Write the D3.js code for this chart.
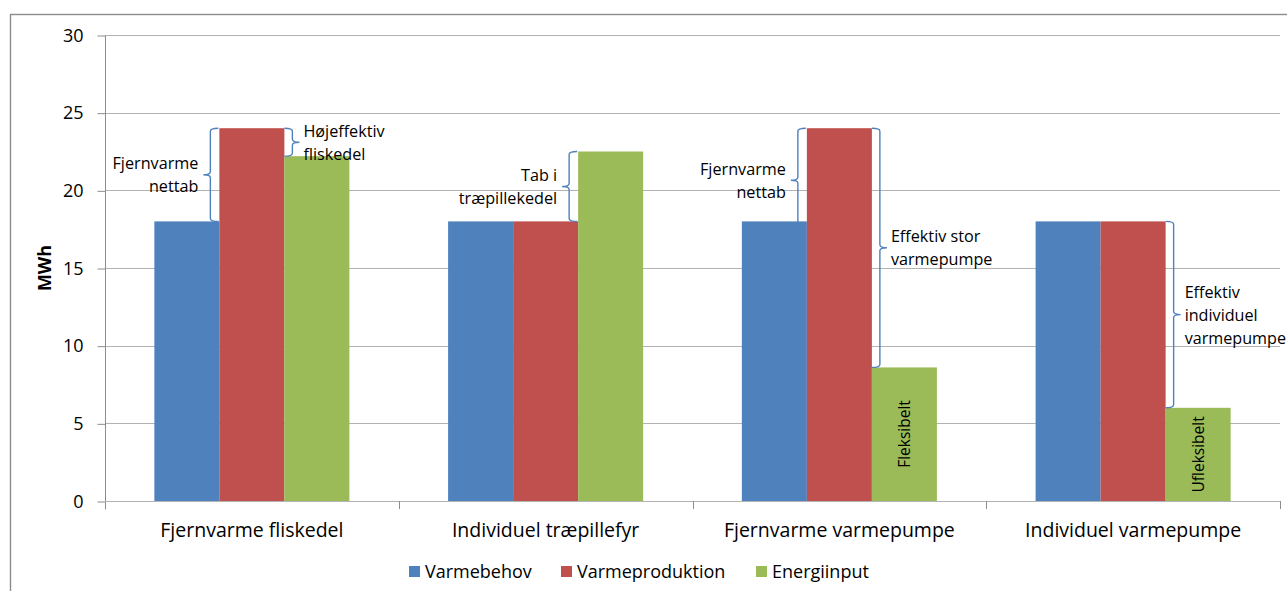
<!DOCTYPE html>
<html><head><meta charset="utf-8">
<script src="https://cdn.jsdelivr.net/npm/d3@7"></script>
<style>
html,body{margin:0;padding:0;background:#fff;}
svg{display:block;font-family:"Open Sans", sans-serif;}
</style></head>
<body><svg id="c" width="1287" height="591"></svg>
<script>
const categories = ["Fjernvarme fliskedel", "Individuel træpillefyr", "Fjernvarme varmepumpe", "Individuel varmepumpe"];
const seriesNames = ["Varmebehov", "Varmeproduktion", "Energiinput"];
const varmebehov = [18, 18, 18, 18];
const varmeproduktion = [24, 18, 24, 18];
const energiinput = [22.2, 22.5, 8.6, 6.0];
const yTicks = [0, 5, 10, 15, 20, 25, 30];
const colors = ["#4F81BD", "#C0504D", "#9BBB59"];
// brackets: category index, series index at whose side, side, from value, to value, label lines
const bracketCat = [0, 0, 1, 2, 2, 3];
const bracketSeries = [1, 1, 2, 1, 1, 1];
const bracketSide = ["left", "right", "left", "left", "right", "right"];
const bracketFrom = [24, 24, 22.5, 24, 24, 18];
const bracketTo = [18, 22.2, 18, 17.3, 8.6, 6.0];
const bracketText = [["Fjernvarme", "nettab"], ["Højeffektiv", "fliskedel"], ["Tab i", "træpillekedel"], ["Fjernvarme", "nettab"], ["Effektiv stor", "varmepumpe"], ["Effektiv", "individuel", "varmepumpe"]];
const barLabelCat = [2, 3];
const barLabelText = ["Fleksibelt", "Ufleksibelt"];

const svg = d3.select("#c");
const W = 1287;
const m = {left: 105, right: 1280, top: 35, bottom: 501};
const series = [varmebehov, varmeproduktion, energiinput];

// outer border
svg.append("rect").attr("x", 10.5).attr("y", 14.5).attr("width", 1400).attr("height", 700)
  .attr("fill", "none").attr("stroke", "#8c8c8c").attr("stroke-width", 1.4);

const x0 = d3.scaleBand().domain(categories).range([m.left, m.right]).padding(0);
const bw = x0.bandwidth();
const gw = bw * 0.664;
const x1 = d3.scaleBand().domain(seriesNames).range([(bw - gw) / 2, (bw + gw) / 2]).padding(0);
const y = d3.scaleLinear().domain([0, 30]).range([m.bottom, m.top]);

// gridlines
svg.append("g").selectAll("line").data(yTicks.filter(d => d > 0)).join("line")
  .attr("x1", m.left).attr("x2", m.right)
  .attr("y1", d => Math.round(y(d)) + 0.5).attr("y2", d => Math.round(y(d)) + 0.5)
  .attr("stroke", "#b3b3b3").attr("stroke-width", 1);

// y axis
const yAxis = svg.append("g").attr("transform", `translate(${m.left + 0.5},0.5)`)
  .call(d3.axisLeft(y).tickValues(yTicks).tickSize(8).tickPadding(14));
yAxis.select(".domain").attr("stroke", "#8c8c8c").attr("d", `M0,${m.top}V${m.bottom + 8}`);
yAxis.selectAll(".tick line").attr("stroke", "#8c8c8c");
yAxis.selectAll("text").attr("font-size", 18).attr("fill", "#000").attr("font-family", "Open Sans");

// x axis
svg.append("line").attr("x1", m.left).attr("x2", m.right).attr("y1", m.bottom + 0.5).attr("y2", m.bottom + 0.5)
  .attr("stroke", "#b3b3b3");
const bounds = categories.map(c => x0(c) + bw);
svg.append("g").selectAll("line").data(bounds).join("line")
  .attr("x1", d => Math.round(d) + 0.5).attr("x2", d => Math.round(d) + 0.5)
  .attr("y1", m.bottom).attr("y2", m.bottom + 8).attr("stroke", "#8c8c8c");
svg.append("g").selectAll("text").data(categories).join("text")
  .attr("x", d => x0(d) + bw / 2).attr("y", 537).attr("text-anchor", "middle")
  .attr("font-size", 19.5).text(d => d);

// bars
const g = svg.append("g");
series.forEach((vals, si) => {
  g.selectAll(null).data(vals).join("rect")
    .attr("x", (d, i) => x0(categories[i]) + x1(seriesNames[si]))
    .attr("width", x1.bandwidth())
    .attr("y", d => y(d)).attr("height", d => y(0) - y(d))
    .attr("fill", colors[si]);
});

// y title
svg.append("text").attr("transform", "translate(51,268) rotate(-90)").attr("text-anchor", "middle")
  .attr("font-size", 18).attr("font-weight", "bold").text("MWh");

// brackets
function bracePath(x, yt, yb, dir) {
  // dir = +1 tip points right, hooks left; -1 tip points left, hooks right
  const h = 8, t = 7, r = 3, ym = (yt + yb) / 2;
  return `M${x - dir * h},${yt} Q${x},${yt} ${x},${yt + r} L${x},${ym - r} Q${x},${ym} ${x + dir * t},${ym} Q${x},${ym} ${x},${ym + r} L${x},${yb - r} Q${x},${yb} ${x - dir * h},${yb}`;
}
const ann = svg.append("g");
bracketCat.forEach((ci, k) => {
  const side = bracketSide[k];
  const bx = x0(categories[ci]) + x1(seriesNames[bracketSeries[k]]);
  const dir = side === "left" ? -1 : 1;
  const xb = side === "left" ? bx - 9 : bx + x1.bandwidth() + 8;
  const yt = y(bracketFrom[k]), yb = y(bracketTo[k]);
  ann.append("path").attr("d", bracePath(xb, yt, yb, dir))
    .attr("fill", "none").attr("stroke", "#4F81BD").attr("stroke-width", 1.4);
  const lines = bracketText[k];
  const ym = (yt + yb) / 2;
  const lh = 23;
  const tx = side === "left" ? xb - 12 : xb + 11;
  const t = ann.append("text").attr("text-anchor", side === "left" ? "end" : "start")
    .attr("font-size", 16.2);
  lines.forEach((s, i) => {
    t.append("tspan").attr("x", tx)
      .attr("y", ym + (i - (lines.length - 1) / 2) * lh + 6).text(s);
  });
  // keep text inside the picture
  const bb = t.node().getBBox();
  if (bb.x + bb.width > W - 1) {
    const f = 16.2 * (W - 1 - tx) / bb.width;
    t.attr("font-size", f);
  }
});

// rotated labels in bars
barLabelCat.forEach((ci, k) => {
  const bx = x0(categories[ci]) + x1(seriesNames[2]) + x1.bandwidth() / 2;
  const v = energiinput[ci];
  const cy = k === 0 ? 434 : (y(v) + y(0)) / 2;
  svg.append("text").attr("transform", `translate(${bx + 6},${cy}) rotate(-90)`)
    .attr("text-anchor", "middle").attr("font-size", 15.5).text(barLabelText[k]);
});

// legend
const lg = svg.append("g");
const lx = [409, 561, 756];
seriesNames.forEach((s, i) => {
  lg.append("rect").attr("x", lx[i]).attr("y", 566).attr("width", 11).attr("height", 11).attr("fill", colors[i]);
  lg.append("text").attr("x", lx[i] + 16).attr("y", 578).attr("font-size", 18).text(s);
});
</script></body></html>
